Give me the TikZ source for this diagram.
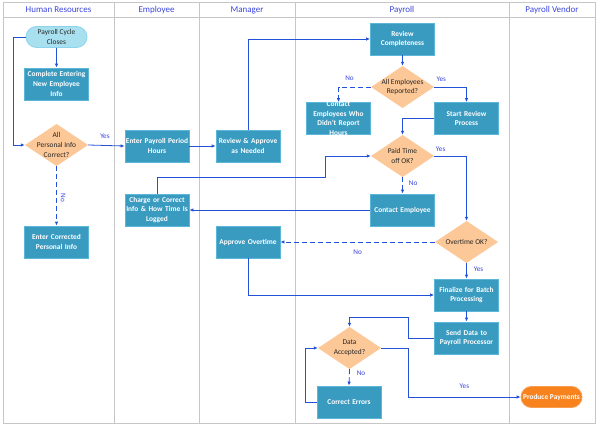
\documentclass[tikz,border=0pt]{standalone}
\usepackage{fontspec}
\setmainfont{Carlito}
\usepackage{tikz}
\usetikzlibrary{shapes.misc,arrows.meta}
\definecolor{lane}{HTML}{C6C6C6}
\definecolor{task}{HTML}{3A9BC1}
\definecolor{taskline}{HTML}{5CB6D8}
\definecolor{decide}{HTML}{FDC898}
\definecolor{startfill}{HTML}{A8E0F0}
\definecolor{startline}{HTML}{8CD4EC}
\definecolor{endfill}{HTML}{F7821E}
\definecolor{endline}{HTML}{F99C4C}
\definecolor{flow}{HTML}{2352D8}
\definecolor{caption}{HTML}{3A45DC}

\begin{document}
\begin{tikzpicture}[x=1pt,y=-1pt,
	task/.style={rectangle, fill=task, draw=taskline, line width=0.8pt, minimum width=64pt, minimum height=32pt, inner xsep=0pt, inner ysep=1pt, text width=64pt, align=center, text=white, font=\fontsize{7.4}{9.6}\selectfont\bfseries},
	decision/.style={rectangle, minimum width=63pt, minimum height=42pt, inner sep=0pt, align=center, text=black!85, font=\fontsize{7.4}{9.6}\selectfont, path picture={\fill[decide] (path picture bounding box.north) -- (path picture bounding box.east) -- (path picture bounding box.south) -- (path picture bounding box.west) -- cycle;}},
	terminal/.style={rounded rectangle, minimum width=63pt, minimum height=21pt, inner sep=1pt, align=center, line width=0.8pt, font=\fontsize{7.4}{9.2}\selectfont},
	head/.style={font=\fontsize{9}{10}\selectfont, text=caption},
	lbl/.style={font=\fontsize{7.2}{8}\selectfont, text=caption, inner sep=1pt},
	flowline/.style={draw=flow, line width=0.8pt, -{Latex[length=4pt,width=3.5pt]}},
	dashflow/.style={flowline, dash pattern=on 5pt off 3pt}]
	\useasboundingbox (0,0) rectangle (600,428);
	% swim lanes
	\draw[lane, line width=0.9pt] (3,2) rectangle (595,423);
	\draw[lane, line width=0.9pt] (3,17) -- (595,17);
	\foreach \x in {114,199,295,509}
		\draw[lane, line width=0.9pt] (\x,2) -- (\x,423);
	\node[head] at (58.5,10) (hr) {Human Resources};
	\node[head] at (156.5,10) (emp) {Employee};
	\node[head] at (247,10) (mgr) {Manager};
	\node[head] at (402,10) (pay) {Payroll};
	\node[head] at (552,10) (vendor) {Payroll Vendor};
	
	% steps
	\node[terminal, fill=startfill, draw=startline, text=black!85] at (56.5,37) (closes) {Payroll Cycle\\Closes};
	\node[task] at (56.5,84) (entering) {Complete Entering\\New Employee\\Info};
	\node[decision] at (56.5,145) (infook) {All\\Personal Info\\Correct?};
	\node[task] at (56.5,242) (corrected) {Enter Corrected\\Personal Info};
	\node[task] at (157,146) (hours) {Enter Payroll Period\\Hours};
	\node[task] at (248,146) (approve) {Review \& Approve\\as Needed};
	\node[task] at (402.5,39) (complete) {Review\\Completeness};
	\node[decision] at (402.5,87) (reported) {All Employees\\Reported?};
	\node[task, inner ysep=-2.5pt] at (338.5,118.5) (contactall) {Contact\\Employees Who\\Didn't Report\\Hours};
	\node[task] at (466.5,118.5) (startrev) {Start Review\\Process};
	\node[decision] at (402.5,156) (paidtime) {Paid Time\\off OK?};
	\node[task] at (402.5,210) (contactemp) {Contact Employee};
	\node[task] at (157,210) (charge) {Charge or Correct\\Info \& How Time Is\\Logged};
	\node[decision] at (466.5,242) (overtime) {Overtime OK?};
	\node[task] at (248,242) (approveot) {Approve Overtime};
	\node[task] at (466.5,295) (finalize) {Finalize for Batch\\Processing};
	\node[task] at (466.5,338) (senddata) {Send Data to\\Payroll Processor};
	\node[decision] at (349.5,348) (accepted) {Data\\Accepted?};
	\node[task] at (349,402) (correct) {Correct Errors};
	\node[terminal, fill=endfill, draw=endline, text=white, font=\fontsize{7.4}{9}\selectfont\bfseries] at (551.5,397) (payments) {Produce Payments};
	
	% flows
	\draw[flowline] (closes) -- (entering);
	\draw[flowline] (closes.west) -- ++(-12,0) |- (infook.west);
	\draw[flowline] (infook.east) -- node[lbl, pos=0.46, above=6pt] {Yes} (hours.west);
	\draw[dashflow] (infook.south) -- node[lbl, pos=0.53, rotate=-90, anchor=south, yshift=3pt] {No} (corrected.north);
	\draw[flowline] (hours) -- (approve);
	\draw[flowline] (approve.north) |- (complete.west);
	\draw[flowline] (complete) -- (reported);
	\draw[dashflow] (reported.west) -| node[lbl, pos=0.33, above=5pt] {No} (contactall.north);
	\draw[flowline] (reported.east) -| node[lbl, pos=0.11, above=4pt] {Yes} (startrev.north);
	\draw[flowline] (startrev.west) -| (paidtime.north);
	\draw[dashflow] (paidtime.south) -- node[lbl, pos=0.35, right=5pt] {No} (contactemp.north);
	\draw[flowline] (paidtime.east) -| node[lbl, pos=0.1, above=3pt] {Yes} (overtime.north);
	\draw[flowline] (contactemp) -- (charge);
	\draw[flowline] (charge.north) |- ++(168,-16) |- (paidtime.west);
	\draw[dashflow] (overtime.west) -- node[lbl, pos=0.5, below=6pt] {No} (approveot.east);
	\draw[flowline] (overtime.south) -- node[lbl, pos=0.4, right=6pt] {Yes} (finalize.north);
	\draw[flowline] (approveot.south) |- (finalize.west);
	\draw[flowline] (finalize) -- (senddata);
	\draw[flowline] (senddata.west) -- ++(-26,0) -- ++(0,-21) -| (accepted.north);
	\draw[dashflow] (accepted.south) -- node[lbl, pos=0.25, right=6pt] {No} (correct.north);
	\draw[flowline] (correct.west) -- ++(-11,0) |- (accepted.west);
	\draw[flowline] (accepted.east) -- ++(27,0) |- node[lbl, pos=0.75, above=7pt] {Yes} (payments.west);
\end{tikzpicture}
\end{document}
